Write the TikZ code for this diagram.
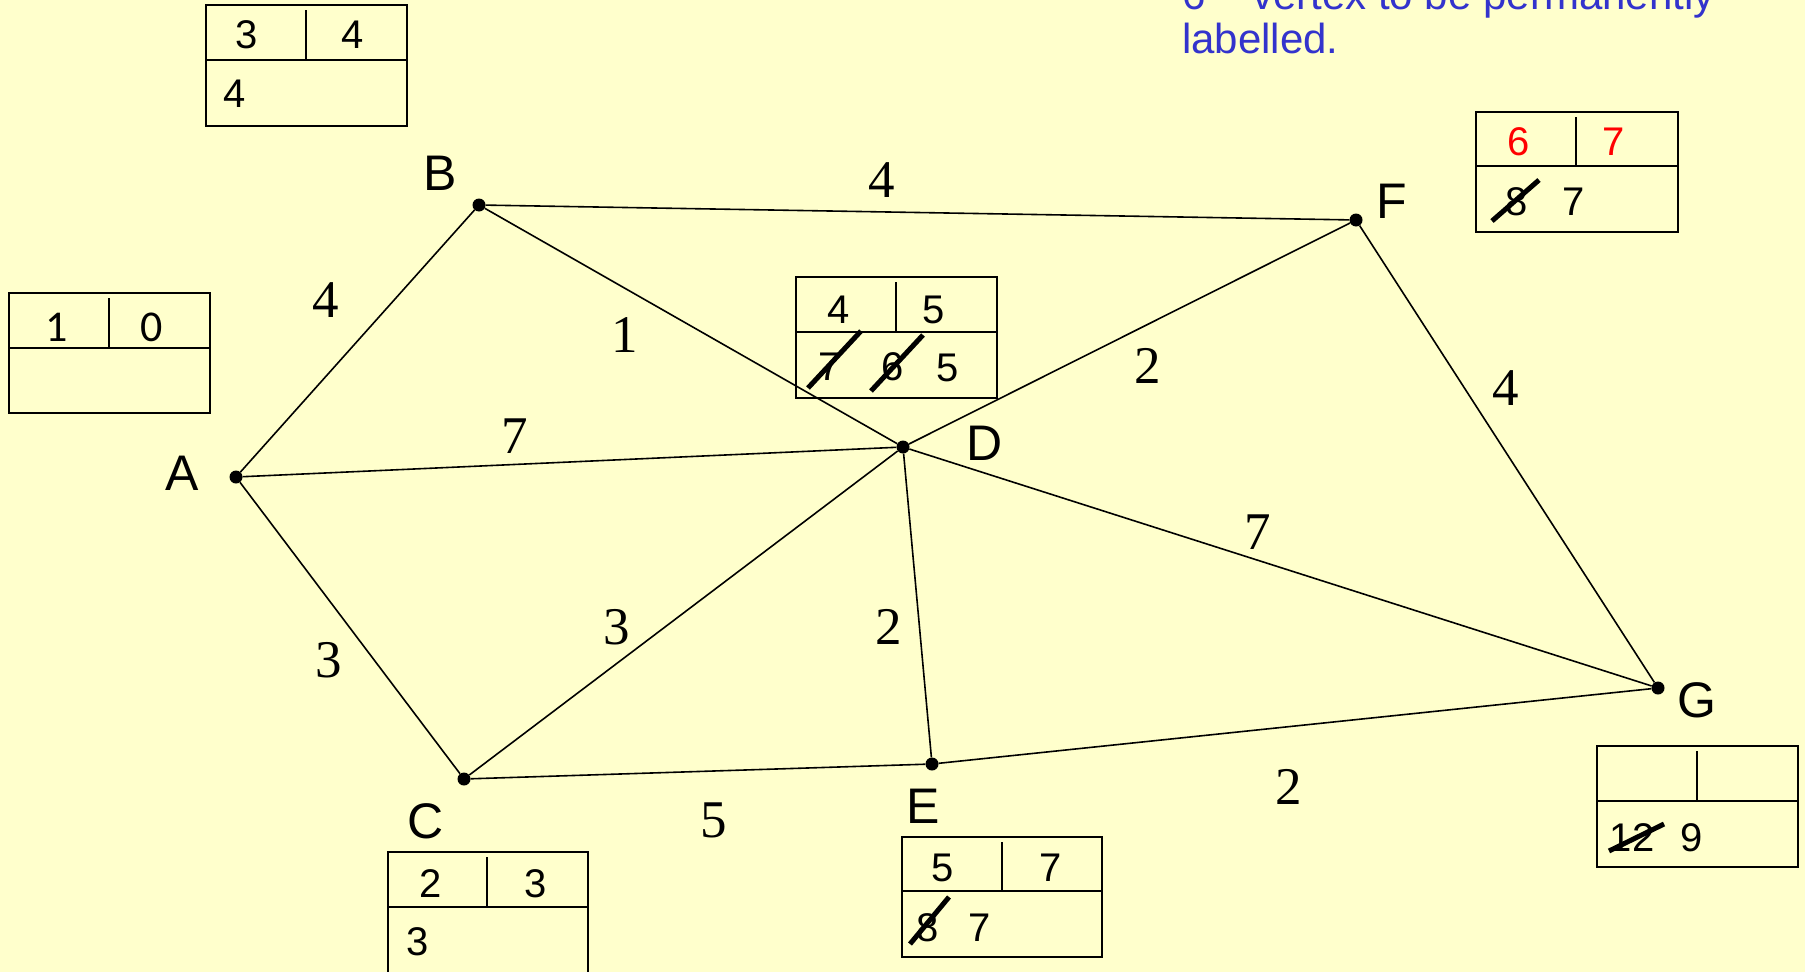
\documentclass[tikz,border=0pt]{standalone}
\usepackage{fontspec}
\setmainfont{Liberation Sans}
\newfontfamily\wfont{Liberation Serif}
\newfontfamily\cfont{Carlito}
\definecolor{bg}{HTML}{FFFFCC}
\definecolor{note}{HTML}{3333CC}
\definecolor{hot}{HTML}{FF0000}
\begin{document}
\begin{tikzpicture}[x=1pt,y=-1pt,
  vtx/.style={circle,fill=black,inner sep=0pt,minimum size=13pt},
  vlab/.style={font=\fontsize{50}{50}\selectfont,inner sep=0pt},
  wlab/.style={font=\wfont\fontsize{53}{53}\selectfont,inner sep=0pt},
  edge/.style={line width=1.6pt},
  box/.style={line width=2.5pt},
  btxt/.style={font=\fontsize{40}{40}\selectfont,inner sep=0pt},
  strike/.style={line width=5pt}]
\useasboundingbox[fill=bg] (0,0) rectangle (1805,972);

% note text
\node[anchor=base west,text=note,font=\fontsize{42}{44}\selectfont,inner sep=0pt] (note1) at (1182,9) {6 – vertex to be permanently};
\node[anchor=base west,text=note,font=\fontsize{42}{44}\selectfont,inner sep=0pt] (note2) at (1182,53) {labelled.};

% vertices
\node[vtx] (A) at (236,477) {};
\node[vtx] (B) at (479,205) {};
\node[vtx] (C) at (464,779) {};
\node[vtx] (D) at (903,447) {};
\node[vtx] (E) at (932,764) {};
\node[vtx] (F) at (1356,220) {};
\node[vtx] (G) at (1658,688) {};

% edges
\draw[edge] (A) -- (B);
\draw[edge] (A) -- (D);
\draw[edge] (A) -- (C);
\draw[edge] (B) -- (F);
\draw[edge] (B) -- (D);
\draw[edge] (F) -- (D);
\draw[edge] (F) -- (G);
\draw[edge] (D) -- (G);
\draw[edge] (D) -- (C);
\draw[edge] (D) -- (E);
\draw[edge] (C) -- (E);
\draw[edge] (E) -- (G);

% vertex labels
\node[vlab] (lA) at (182,473) {A};
\node[vlab] (lB) at (440,173) {B};
\node[vlab] (lC) at (426,821) {C};
\node[vlab] (lD) at (985,443) {D};
\node[vlab] (lE) at (923,806) {E};
\node[vlab] (lF) at (1392,201) {F};
\node[vlab] (lG) at (1697,700) {G};

% weights
\node[wlab] (wAB) at (326,300) {4};
\node[wlab] (wBD) at (625,335) {1};
\node[wlab] (wBF) at (882,180) {4};
\node[wlab] (wAD) at (515,436) {7};
\node[wlab] (wFD) at (1148,366) {2};
\node[wlab] (wFG) at (1506,388) {4};
\node[wlab] (wDG) at (1258,532) {7};
\node[wlab] (wAC) at (329,660) {3};
\node[wlab] (wCD) at (617,627) {3};
\node[wlab] (wDE) at (889,627) {2};
\node[wlab] (wCE) at (714,820) {5};
\node[wlab] (wEG) at (1289,787) {2};

% box A
\draw[box] (9,293) rectangle (210,413) (9,348) -- (210,348) (109,298) -- (109,348);
\node[btxt,font=\cfont\fontsize{44}{44}\selectfont] (bA1) at (57,327) {1};
\node[btxt,font=\cfont\fontsize{44}{44}\selectfont] (bA2) at (152,327) {0};

% box B
\draw[box] (206,5) rectangle (407,126) (206,60) -- (407,60) (306,10) -- (306,60);
\node[btxt] (bB1) at (247,35) {3};
\node[btxt] (bB2) at (353,35) {4};
\node[btxt] (bB3) at (235,94) {4};

% box C
\draw[box] (388,852) rectangle (588,985) (388,907) -- (588,907) (487,857) -- (487,907);
\node[btxt] (bC1) at (431,884) {2};
\node[btxt] (bC2) at (536,884) {3};
\node[btxt] (bC3) at (418,942) {3};

% box D
\draw[box] (796,277) rectangle (997,398) (796,332) -- (997,332) (896,282) -- (896,332);
\node[btxt] (bD1) at (839,310) {4};
\node[btxt] (bD2) at (934,310) {5};
\node[btxt] (bD3) at (830,367) {7};
\node[btxt] (bD4) at (893,367) {6};
\node[btxt] (bD5) at (948,368) {5};
\draw[strike] (808,388) -- (861,331);
\draw[strike] (871,391) -- (923,335);

% box E
\draw[box] (902,837) rectangle (1102,957) (902,891) -- (1102,891) (1002,842) -- (1002,891);
\node[btxt] (bE1) at (943,868) {5};
\node[btxt] (bE2) at (1051,868) {7};
\node[btxt] (bE3) at (928,928) {8};
\node[btxt] (bE4) at (980,928) {7};
\draw[strike] (910,944) -- (949,897);

% box F
\draw[box] (1476,112) rectangle (1678,232) (1476,166) -- (1678,166) (1576,117) -- (1576,166);
\node[btxt,text=hot] (bF1) at (1519,142) {6};
\node[btxt,text=hot] (bF2) at (1614,142) {7};
\node[btxt] (bF3) at (1517,202) {8};
\node[btxt] (bF4) at (1574,202) {7};
\draw[strike] (1492,221) -- (1539,180);

% box G
\draw[box] (1597,746) rectangle (1798,867) (1597,801) -- (1798,801) (1697,751) -- (1697,801);
\node[btxt] (bG1) at (1632,838) {12};
\node[btxt] (bG2) at (1692,838) {9};
\draw[strike] (1609,851) -- (1664,824);
\end{tikzpicture}
\end{document}
